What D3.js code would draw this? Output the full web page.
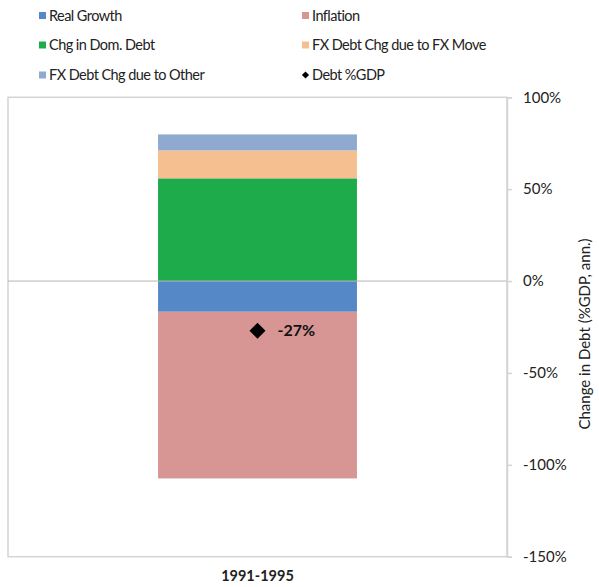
<!DOCTYPE html>
<html><head><meta charset="utf-8">
<script src="https://cdn.jsdelivr.net/npm/d3@7"></script>
<style>body{margin:0;background:#fff;} text{font-family:Lato, "Open Sans", sans-serif;}</style>
</head><body>
<svg id="c" width="599" height="587"></svg>
<script>
const categories = ["1991-1995"];
const seriesNames = ["Real Growth","Inflation","Chg in Dom. Debt","FX Debt Chg due to FX Move","FX Debt Chg due to Other"];
const seriesColors = ["#5588c6","#d79593","#1eab4b","#f6bf8f","#8fa9d0"];
const realGrowth = [-16.7];
const inflation = [-90.7];
const domDebt = [55.9];
const fxMove = [15.2];
const fxOther = [8.7];
const debtGDP = [-27];
const tickValues = [100,50,0,-50,-100,-150];

const svg = d3.select("#c");
const L=8, R=507, T=97.3, B=556.7;
const y = d3.scaleLinear().domain([-150,100]).range([B,T]);
const x = d3.scaleBand().domain(categories).range([L,R]).paddingInner(0.43).paddingOuter(0.43);

// plot border
svg.append("rect").attr("x",L).attr("y",T).attr("width",R-L).attr("height",B-T)
  .attr("fill","none").attr("stroke","#d4d4d4").attr("stroke-width",1.5);

// bars
const seriesVals=[realGrowth,inflation,domDebt,fxMove,fxOther];
categories.forEach((c,i)=>{
  let pos=0, neg=0;
  seriesVals.forEach((s,k)=>{
    const v=s[i]; let y0,y1;
    if(v>=0){y0=pos;y1=pos+v;pos=y1;} else {y0=neg;y1=neg+v;neg=y1;}
    svg.append("rect").attr("x",x(c)).attr("width",x.bandwidth())
      .attr("y",y(Math.max(y0,y1))).attr("height",Math.abs(y(y0)-y(y1)))
      .attr("fill",seriesColors[k]);
  });
});

// zero line
svg.append("line").attr("x1",L).attr("x2",R).attr("y1",y(0)).attr("y2",y(0))
  .attr("stroke","#b5b5b5").attr("stroke-width",1);

// right axis
const ax = svg.append("g").attr("transform",`translate(${R},0)`)
  .call(d3.axisRight(y).tickValues(tickValues).tickFormat(d=>d+"%").tickSize(5).tickPadding(11));
ax.select(".domain").attr("stroke","#d4d4d4").attr("stroke-width",1.5);
ax.selectAll(".tick line").attr("stroke","#d4d4d4").attr("stroke-width",1.5);
ax.selectAll(".tick text").attr("fill","#222").style("font-size","15px").style("font-family","Lato, sans-serif");

// axis title
svg.append("text").attr("transform",`translate(590,${(T+B)/2+7}) rotate(-90)`)
  .attr("text-anchor","middle").attr("fill","#222").style("font-size","15px")
  .text("Change in Debt (%GDP, ann.)");

// category labels
categories.forEach(c=>{
  svg.append("text").attr("x",x(c)+x.bandwidth()/2).attr("y",581).attr("text-anchor","middle")
    .attr("fill","#222").style("font-size","14.5px").style("font-weight","bold").text(c);
});

// debt markers
categories.forEach((c,i)=>{
  const cx=x(c)+x.bandwidth()/2, cy=y(debtGDP[i]);
  svg.append("path").attr("d",d3.symbol(d3.symbolSquare,128)())
    .attr("transform",`translate(${cx},${cy}) rotate(45)`).attr("fill","#000");
  svg.append("text").attr("x",cx+20).attr("y",cy+5.5).attr("fill","#111")
    .style("font-size","16px").style("font-weight","bold").text(debtGDP[i]+"%");
});

// legend
const legendItems = [
  {name:seriesNames[0],color:seriesColors[0],col:0,row:0},
  {name:seriesNames[1],color:seriesColors[1],col:1,row:0},
  {name:seriesNames[2],color:seriesColors[2],col:0,row:1},
  {name:seriesNames[3],color:seriesColors[3],col:1,row:1},
  {name:seriesNames[4],color:seriesColors[4],col:0,row:2},
  {name:"Debt %GDP",color:"#000",col:1,row:2,diamond:true}
];
const colX=[39,302], rowY=[15.5,45,75];
legendItems.forEach(it=>{
  const lx=colX[it.col], ly=rowY[it.row];
  if(it.diamond){
    svg.append("path").attr("d",d3.symbol(d3.symbolSquare,26)())
      .attr("transform",`translate(${lx+3.5},${ly}) rotate(45)`).attr("fill","#000");
  } else {
    svg.append("rect").attr("x",lx).attr("y",ly-3.5).attr("width",7).attr("height",7).attr("fill",it.color);
  }
  svg.append("text").attr("x",lx+10).attr("y",ly+5).attr("fill","#222").style("font-size","14.5px")
    .style("letter-spacing","-0.55px").text(it.name);
});
</script>
</body></html>
